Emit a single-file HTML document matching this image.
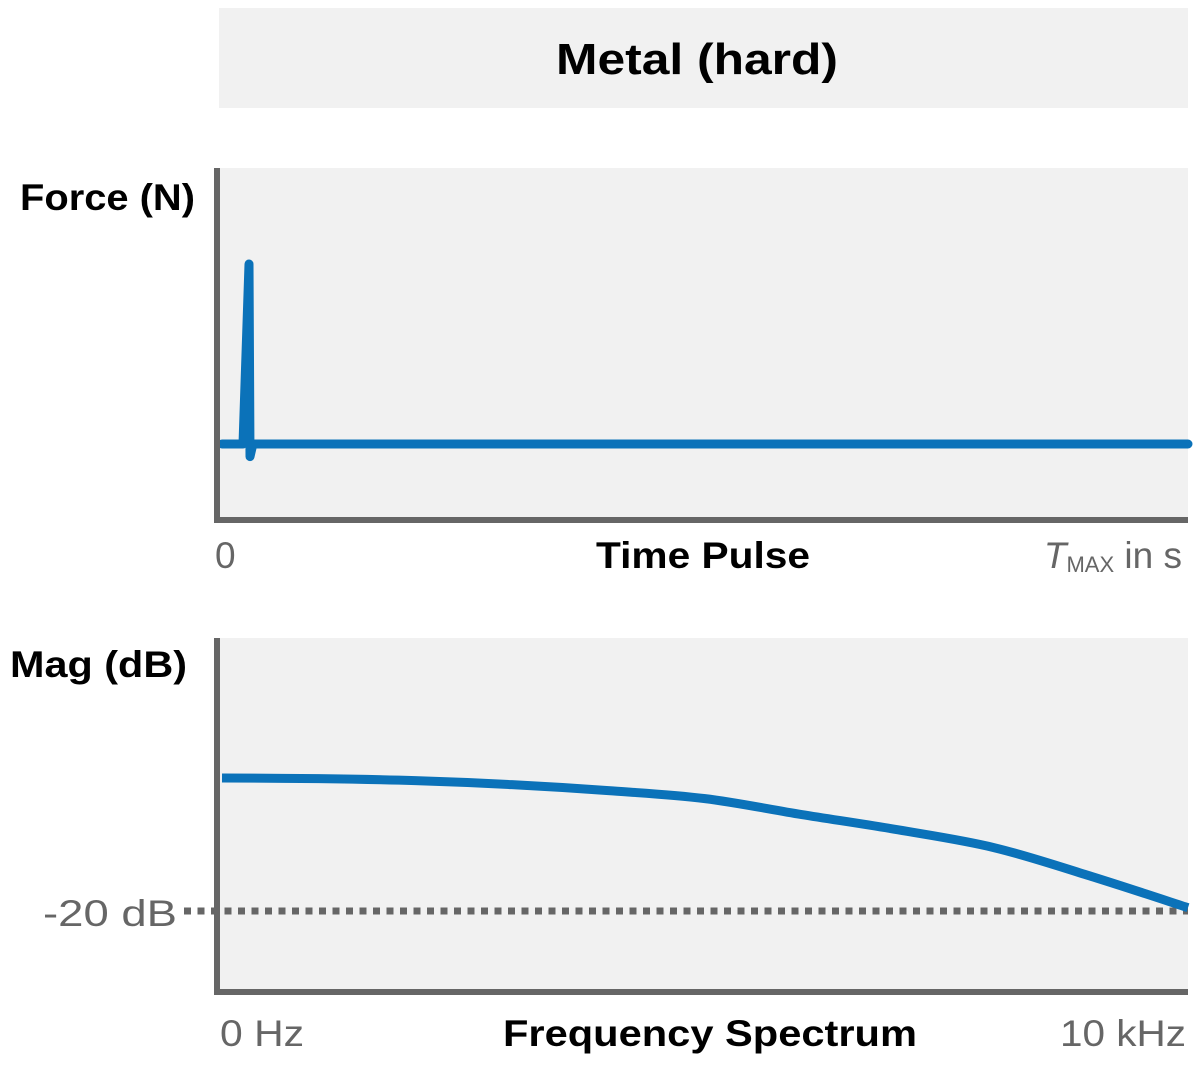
<!DOCTYPE html>
<html><head><meta charset="utf-8">
<style>
html,body{margin:0;padding:0;background:#fff;}
svg{display:block;font-family:"Liberation Sans",sans-serif;}
</style></head>
<body>
<svg id="chart" width="1200" height="1067" viewBox="0 0 1200 1067">
  <rect x="219" y="8" width="969" height="100" fill="#f1f1f1"/>
  <text x="697" y="74" text-anchor="middle" font-size="44" font-weight="bold" fill="#000" textLength="282" lengthAdjust="spacingAndGlyphs">Metal (hard)</text>

  <g>
    <rect x="219" y="168" width="969" height="352" fill="#f1f1f1"/>
    <g id="timeMarks"></g>
    <line x1="217" y1="168" x2="217" y2="522" stroke="#666" stroke-width="6"/>
    <line x1="214" y1="520" x2="1188" y2="520" stroke="#666" stroke-width="6"/>
    <text x="195" y="210" text-anchor="end" font-size="37" font-weight="bold" fill="#000" textLength="175" lengthAdjust="spacingAndGlyphs">Force (N)</text>
    <text x="215" y="568" font-size="37" fill="#666">0</text>
    <text x="703" y="568" text-anchor="middle" font-size="37" font-weight="bold" fill="#000" textLength="214" lengthAdjust="spacingAndGlyphs">Time Pulse</text>
    <text x="1182" y="568" text-anchor="end" font-size="37" fill="#666"><tspan font-style="italic">T</tspan><tspan font-size="22" dy="4">MAX</tspan><tspan dy="-4"> in s</tspan></text>
  </g>

  <g>
    <rect x="219" y="638" width="969" height="354" fill="#f1f1f1"/>
    <g id="freqMarks"></g>
    <line x1="217" y1="638" x2="217" y2="995" stroke="#666" stroke-width="6"/>
    <line x1="214" y1="992" x2="1188" y2="992" stroke="#666" stroke-width="6"/>
    <text x="10" y="677" font-size="37" font-weight="bold" fill="#000" textLength="177" lengthAdjust="spacingAndGlyphs">Mag (dB)</text>
    <text x="177" y="926" text-anchor="end" font-size="37" fill="#666" textLength="134" lengthAdjust="spacingAndGlyphs">-20 dB</text>
    <text x="220" y="1046" font-size="37" fill="#666" textLength="84" lengthAdjust="spacingAndGlyphs">0 Hz</text>
    <text x="710" y="1046" text-anchor="middle" font-size="37" font-weight="bold" fill="#000" textLength="414" lengthAdjust="spacingAndGlyphs">Frequency Spectrum</text>
    <text x="1186" y="1046" text-anchor="end" font-size="37" fill="#666" textLength="126" lengthAdjust="spacingAndGlyphs">10 kHz</text>
  </g>
</svg>
<script>
// Time pulse data (time as fraction of Tmax, force normalized)
var pulseTimes = [0, 0.0217, 0.028, 0.029, 0.032, 1];
var pulseForces = [0, 0, 1, -0.07, 0, 0];
// Frequency spectrum data
var freqKHz = [0, 1, 2, 3, 4, 5, 6, 7, 8, 9, 10];
var magDb = [0, -0.1, -0.4, -1.0, -1.9, -3.1, -5.5, -7.8, -10.5, -14.8, -19.5];
var refDb = -20;

var NS = 'http://www.w3.org/2000/svg';
function tx(t){ return 222 + t * 966; }
function ty(f){ return 444 - f * 180; }
function fx(k){ return 222 + (k / 10) * 966; }
function fy(d){ return 778 - d * (133 / 20); }

var tg = document.getElementById('timeMarks');
var pts = pulseTimes.map(function(t, i){ return tx(t).toFixed(1) + ',' + ty(pulseForces[i]).toFixed(1); });
var pl = document.createElementNS(NS, 'polyline');
pl.setAttribute('points', pts.join(' '));
pl.setAttribute('fill', 'none');
pl.setAttribute('stroke', '#0b72b9');
pl.setAttribute('stroke-width', '9');
pl.setAttribute('stroke-linejoin', 'round');
pl.setAttribute('stroke-linecap', 'round');


tg.appendChild(pl);

var fg = document.getElementById('freqMarks');
var ref = document.createElementNS(NS, 'line');
ref.setAttribute('x1', 184); ref.setAttribute('x2', 1188);
ref.setAttribute('y1', fy(refDb)); ref.setAttribute('y2', fy(refDb));
ref.setAttribute('stroke', '#666');
ref.setAttribute('stroke-width', '7');
ref.setAttribute('stroke-dasharray', '7 6.5');


fg.appendChild(ref);

var P = freqKHz.map(function(k, i){ return [fx(k), fy(magDb[i])]; });
var d = 'M' + P[0][0] + ',' + P[0][1];
for (var i = 0; i < P.length - 1; i++) {
  var p0 = P[Math.max(0, i - 1)], p1 = P[i], p2 = P[i + 1], p3 = P[Math.min(P.length - 1, i + 2)];
  var c1x = p1[0] + (p2[0] - p0[0]) / 6, c1y = p1[1] + (p2[1] - p0[1]) / 6;
  var c2x = p2[0] - (p3[0] - p1[0]) / 6, c2y = p2[1] - (p3[1] - p1[1]) / 6;
  d += ' C' + c1x + ',' + c1y + ' ' + c2x + ',' + c2y + ' ' + p2[0] + ',' + p2[1];
}
var curve = document.createElementNS(NS, 'path');
curve.setAttribute('d', d);
curve.setAttribute('fill', 'none');
curve.setAttribute('stroke', '#0b72b9');
curve.setAttribute('stroke-width', '9');


fg.appendChild(curve);
</script>
</body></html>
